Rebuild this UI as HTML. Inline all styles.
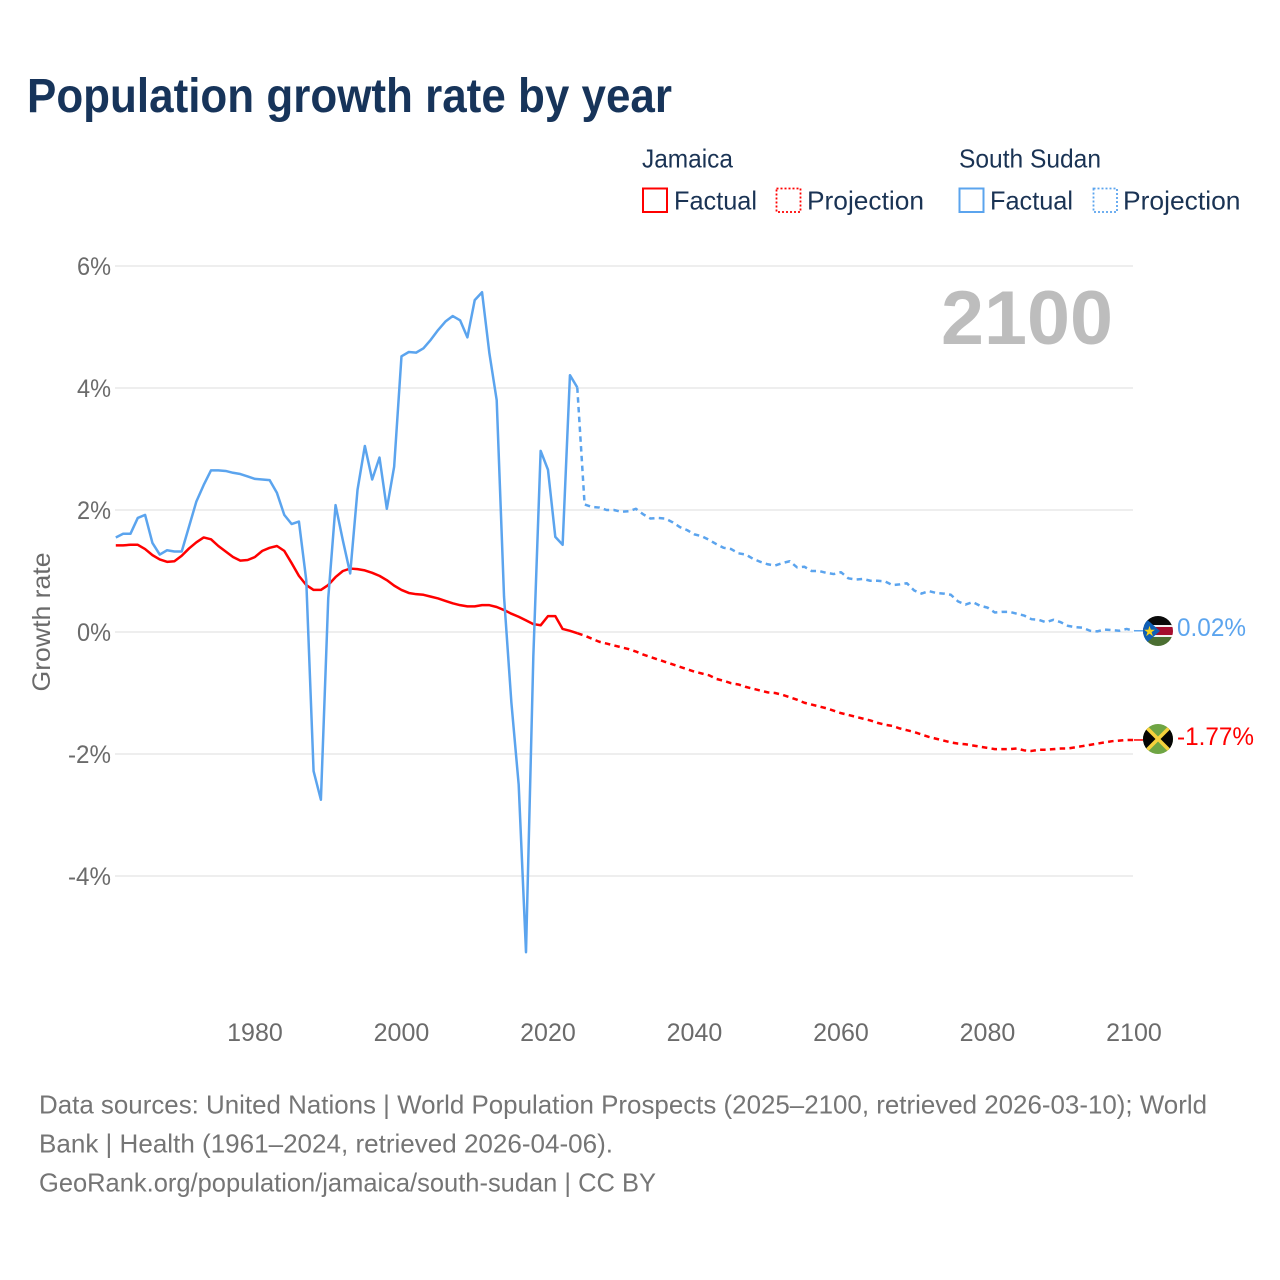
<!DOCTYPE html>
<html lang="en">
<head>
<meta charset="utf-8">
<title>Population growth rate by year</title>
<style>
html,body{margin:0;padding:0;background:#fff;width:1280px;height:1280px;overflow:hidden}
svg{display:block}
text{font-family:"Liberation Sans",sans-serif}
</style>
</head>
<body>
<svg id="chart" xmlns="http://www.w3.org/2000/svg" width="1280" height="1280" viewBox="0 0 1280 1280">
  <rect x="0" y="0" width="1280" height="1280" fill="#fff"/>
  <text x="27" y="112" font-size="48" font-weight="700" fill="#17345a" textLength="645" lengthAdjust="spacingAndGlyphs">Population growth rate by year</text>

  <g font-size="26" fill="#1a3354">
    <text x="642" y="167.5" textLength="91" lengthAdjust="spacingAndGlyphs">Jamaica</text>
    <text x="959" y="167.5" textLength="142" lengthAdjust="spacingAndGlyphs">South Sudan</text>
    <g>
      <rect x="643" y="188.5" width="24" height="23.5" fill="none" stroke="#ff0000" stroke-width="2"/>
      <text x="674" y="209.5" textLength="83" lengthAdjust="spacingAndGlyphs">Factual</text>
    </g>
    <g>
      <rect x="776.5" y="188.5" width="24" height="23.5" fill="none" stroke="#ff0000" stroke-width="1.8" stroke-dasharray="2 2"/>
      <text x="807" y="209.5" textLength="117" lengthAdjust="spacingAndGlyphs">Projection</text>
    </g>
    <g>
      <rect x="959.5" y="188.5" width="24" height="23.5" fill="none" stroke="#5ba4ee" stroke-width="2"/>
      <text x="990" y="209.5" textLength="83" lengthAdjust="spacingAndGlyphs">Factual</text>
    </g>
    <g>
      <rect x="1093.5" y="188.5" width="23.5" height="23.5" fill="none" stroke="#5ba4ee" stroke-width="1.8" stroke-dasharray="2 2"/>
      <text x="1123" y="209.5" textLength="117.5" lengthAdjust="spacingAndGlyphs">Projection</text>
    </g>
  </g>

  <g id="grid"></g>
  <g id="ylabels"></g>
  <g id="xlabels"></g>
  <text x="0" y="0" transform="translate(50,622) rotate(-90)" text-anchor="middle" font-size="25" fill="#6b6b6b" textLength="139" lengthAdjust="spacingAndGlyphs">Growth rate</text>
  <text x="1113" y="344" text-anchor="end" font-size="76" font-weight="700" fill="#bdbdbd" textLength="172" lengthAdjust="spacingAndGlyphs">2100</text>
  <g id="series"></g>

  <defs>
    <clipPath id="clip-ss"><circle id="clip-ss-circle" cx="1158" cy="631" r="15"/></clipPath>
    <clipPath id="clip-jm"><circle id="clip-jm-circle" cx="1158" cy="739" r="15"/></clipPath>
  </defs>
  <g id="flag-ss" clip-path="url(#clip-ss)">
    <rect x="1143" y="616" width="30" height="10" fill="#0a0a0a"/>
    <rect x="1143" y="625" width="30" height="2" fill="#f2f2f2"/>
    <rect x="1143" y="627" width="30" height="8" fill="#a50d2e"/>
    <rect x="1143" y="635" width="30" height="2" fill="#f2f2f2"/>
    <rect x="1143" y="637" width="30" height="9" fill="#4b6f32"/>
    <polygon points="1143,616 1160,631 1143,646" fill="#0f5fb5"/>
    <text x="1149.5" y="636" font-size="14" text-anchor="middle" fill="#f7d21a">★</text>
  </g>
  <g id="flag-jm" clip-path="url(#clip-jm)">
    <rect x="1143" y="724" width="30" height="30" fill="#6fa544"/>
    <polygon points="1143,724 1158,739 1143,754" fill="#050505"/>
    <polygon points="1173,724 1158,739 1173,754" fill="#050505"/>
    <line x1="1146" y1="727" x2="1170" y2="751" stroke="#f5d13c" stroke-width="3.6"/>
    <line x1="1170" y1="727" x2="1146" y2="751" stroke="#f5d13c" stroke-width="3.6"/>
  </g>
  <text x="1177" y="636" font-size="25" fill="#5ba4ee" textLength="69" lengthAdjust="spacingAndGlyphs">0.02%</text>
  <text x="1177" y="745" font-size="25" fill="#ff0000" textLength="77" lengthAdjust="spacingAndGlyphs">-1.77%</text>

  <g font-size="26" fill="#757575">
    <text x="39" y="1113.5" textLength="1168" lengthAdjust="spacingAndGlyphs">Data sources: United Nations | World Population Prospects (2025–2100, retrieved 2026-03-10); World</text>
    <text x="39" y="1152.5" textLength="574" lengthAdjust="spacingAndGlyphs">Bank | Health (1961–2024, retrieved 2026-04-06).</text>
    <text x="39" y="1191.5" textLength="617" lengthAdjust="spacingAndGlyphs">GeoRank.org/population/jamaica/south-sudan | CC BY</text>
  </g>
</svg>
<script>
const yTicks = [6, 4, 2, 0, -2, -4];
const xTicks = [1980, 2000, 2020, 2040, 2060, 2080, 2100];
const factualStartYear = 1961;
const projectionStartYear = 2024;
const jamaicaFactual = [1.42,1.42,1.43,1.43,1.36,1.26,1.19,1.15,1.16,1.25,1.37,1.47,1.55,1.52,1.41,1.32,1.23,1.17,1.18,1.23,1.33,1.38,1.41,1.33,1.13,0.92,0.77,0.69,0.69,0.77,0.90,1.00,1.04,1.03,1.01,0.97,0.92,0.85,0.76,0.69,0.64,0.62,0.61,0.58,0.55,0.51,0.47,0.44,0.42,0.42,0.44,0.44,0.41,0.36,0.30,0.25,0.19,0.13,0.11,0.26,0.26,0.05,0.02,-0.02];
const jamaicaProjection = [-0.02,-0.06,-0.11,-0.16,-0.19,-0.22,-0.25,-0.28,-0.32,-0.37,-0.41,-0.45,-0.49,-0.53,-0.57,-0.61,-0.65,-0.68,-0.71,-0.77,-0.80,-0.84,-0.86,-0.90,-0.93,-0.96,-0.99,-1.00,-1.03,-1.07,-1.11,-1.16,-1.19,-1.22,-1.25,-1.29,-1.33,-1.36,-1.39,-1.42,-1.45,-1.49,-1.52,-1.54,-1.58,-1.61,-1.64,-1.68,-1.72,-1.75,-1.78,-1.81,-1.83,-1.84,-1.86,-1.88,-1.90,-1.92,-1.92,-1.92,-1.91,-1.94,-1.95,-1.93,-1.93,-1.92,-1.91,-1.91,-1.89,-1.87,-1.85,-1.83,-1.81,-1.79,-1.78,-1.77,-1.77];
const southSudanFactual = [1.55,1.61,1.61,1.87,1.92,1.46,1.27,1.34,1.32,1.32,1.73,2.14,2.41,2.65,2.65,2.64,2.61,2.59,2.55,2.51,2.50,2.49,2.28,1.92,1.77,1.81,0.85,-2.28,-2.75,0.55,2.08,1.50,0.96,2.33,3.05,2.50,2.86,2.02,2.71,4.52,4.59,4.58,4.65,4.79,4.95,5.09,5.18,5.11,4.83,5.44,5.57,4.57,3.80,0.58,-1.15,-2.50,-5.25,-0.40,2.97,2.66,1.56,1.43,4.21,4.01];
const southSudanProjection = [4.01,2.09,2.05,2.04,2.00,2.00,1.97,1.98,2.02,1.93,1.86,1.87,1.86,1.80,1.72,1.67,1.60,1.57,1.51,1.44,1.38,1.36,1.29,1.27,1.20,1.15,1.11,1.09,1.13,1.16,1.06,1.07,1.00,1.00,0.97,0.95,0.98,0.88,0.86,0.87,0.84,0.84,0.83,0.77,0.78,0.80,0.68,0.63,0.67,0.64,0.63,0.61,0.50,0.45,0.49,0.43,0.40,0.32,0.33,0.33,0.30,0.27,0.21,0.20,0.16,0.20,0.16,0.10,0.08,0.07,0.02,0.01,0.04,0.03,0.02,0.05,0.02];

const NS = 'http://www.w3.org/2000/svg';
function xScale(year) { return 115.8 + (year - 1961) * 7.325; }
function yScale(value) { return 632 - value * 61; }

const gridGroup = document.getElementById('grid');
const yLabelGroup = document.getElementById('ylabels');
const xLabelGroup = document.getElementById('xlabels');
const seriesGroup = document.getElementById('series');

yTicks.forEach(function (tick) {
  const line = document.createElementNS(NS, 'line');
  
  
  line.setAttribute('x1', 115);
  line.setAttribute('x2', 1133);
  line.setAttribute('y1', yScale(tick));
  line.setAttribute('y2', yScale(tick));
  line.setAttribute('stroke', '#e9e9e9');
  line.setAttribute('stroke-width', '1.6');
  gridGroup.appendChild(line);

  const label = document.createElementNS(NS, 'text');
  
  
  label.setAttribute('x', 111);
  label.setAttribute('y', yScale(tick) + 9);
  label.setAttribute('text-anchor', 'end');
  label.setAttribute('font-size', '25');
  label.setAttribute('fill', '#6b6b6b');
  label.setAttribute('textLength', tick < 0 ? 43 : 34);
  label.setAttribute('lengthAdjust', 'spacingAndGlyphs');
  label.textContent = tick + '%';
  yLabelGroup.appendChild(label);
});

xTicks.forEach(function (tick) {
  const label = document.createElementNS(NS, 'text');
  
  
  label.setAttribute('x', xScale(tick));
  label.setAttribute('y', 1041);
  label.setAttribute('text-anchor', 'middle');
  label.setAttribute('font-size', '25');
  label.setAttribute('fill', '#6b6b6b');
  label.textContent = tick;
  xLabelGroup.appendChild(label);
});

function linePath(values, startYear) {
  return values.map(function (value, i) {
    return (i ? 'L' : 'M') + xScale(startYear + i).toFixed(2) + ' ' + yScale(value).toFixed(2);
  }).join(' ');
}

function drawLine(values, startYear, color, dashed) {
  const path = document.createElementNS(NS, 'path');
  path.setAttribute('d', linePath(values, startYear));
  path.setAttribute('fill', 'none');
  path.setAttribute('stroke', color);
  path.setAttribute('stroke-width', '2.5');
  path.setAttribute('stroke-linejoin', 'round');
  if (dashed) path.setAttribute('stroke-dasharray', '5.5 4.3');
  seriesGroup.appendChild(path);
  return path;
}

function drawConnector(value, color) {
  const connector = document.createElementNS(NS, 'line');
  connector.setAttribute('x1', xScale(2100));
  connector.setAttribute('x2', 1143);
  connector.setAttribute('y1', yScale(value));
  connector.setAttribute('y2', yScale(value));
  connector.setAttribute('stroke', color);
  connector.setAttribute('stroke-width', '1.5');
  seriesGroup.appendChild(connector);
  return connector;
}

const jamaicaProjectionLine = drawLine(jamaicaProjection, projectionStartYear, '#ff0000', true);



const southSudanProjectionLine = drawLine(southSudanProjection, projectionStartYear, '#5ba4ee', true);



const jamaicaFactualLine = drawLine(jamaicaFactual, factualStartYear, '#ff0000', false);



const southSudanFactualLine = drawLine(southSudanFactual, factualStartYear, '#5ba4ee', false);



const jamaicaConnector = drawConnector(jamaicaProjection[jamaicaProjection.length - 1], '#ff0000');



const southSudanConnector = drawConnector(southSudanProjection[southSudanProjection.length - 1], '#5ba4ee');


</script>
</body>
</html>
